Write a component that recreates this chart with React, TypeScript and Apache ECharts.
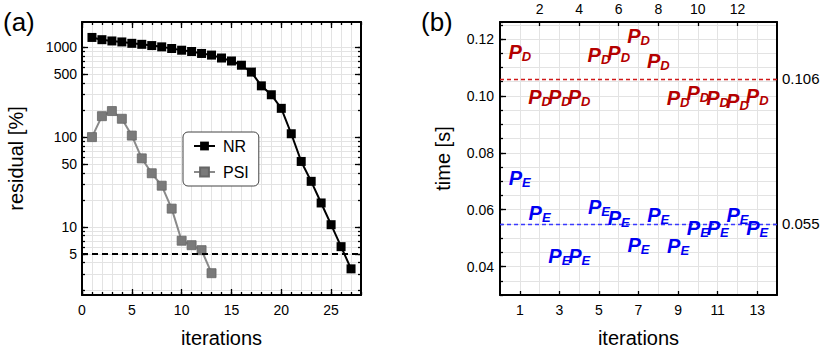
import React, { useEffect, useRef } from 'react';
import * as echarts from 'echarts';

// ---------- data: panel (a) ----------
const nrIter = [1, 2, 3, 4, 5, 6, 7, 8, 9, 10, 11, 12, 13, 14, 15, 16, 17, 18, 19, 20, 21, 22, 23, 24, 25, 26, 27];
const nrResidual = [1286, 1214, 1175, 1146, 1106, 1078, 1044, 1010, 968, 927, 897, 853, 818, 759, 703, 631, 529, 372, 296, 209, 109, 53.6, 32.2, 18.5, 10.6, 6.04, 3.42];
const psiIter = [1, 2, 3, 4, 5, 6, 7, 8, 9, 10, 11, 12, 13];
const psiResidual = [100, 171, 195, 160, 104, 58, 39.6, 28.8, 16, 7.03, 6.27, 5.52, 3.06];
const tolerance = 5;
const iterMajorTicks = [0, 5, 10, 15, 20, 25];
const residualMinorTicks = [2, 3, 4, 5, 6, 7, 8, 9, 10, 20, 30, 40, 50, 60, 70, 80, 90, 100, 200, 300, 400, 500, 600, 700, 800, 900, 1000];
const residualLabels = [5, 10, 50, 100, 500, 1000];

// ---------- data: panel (b) ----------
const timeIter = [1, 2, 3, 4, 5, 6, 7, 8, 9, 10, 11, 12, 13];
const pdTime = [0.1152, 0.0995, 0.0995, 0.0995, 0.1141, 0.1148, 0.121, 0.112, 0.0991, 0.1009, 0.0991, 0.0982, 0.0998];
const peTime = [0.071, 0.0587, 0.0435, 0.0435, 0.0608, 0.0568, 0.0473, 0.058, 0.0469, 0.0533, 0.0533, 0.058, 0.0533];
const pdMean = 0.106;
const peMean = 0.055;
const oddIterLabels = [1, 3, 5, 7, 9, 11, 13];
const evenIterLabels = [2, 4, 6, 8, 10, 12];
const timeLabels = [0.04, 0.06, 0.08, 0.1, 0.12];

const FONT = '"Liberation Sans", Arial, Helvetica, sans-serif';
const GRID_COLOR = '#e3e3e3';
const RED = '#b40000';
const BLUE = '#0000f2';

const lg = (v: number) => Math.log10(v);

const frame = { show: true, onZero: false, lineStyle: { color: '#000', width: 2 } };
const noFrame = { show: false, onZero: false };
const tick = (len: number, extra: any = {}) => ({ show: true, inside: true, length: len, lineStyle: { color: '#000', width: 1.3 }, ...extra });
const noLabel = { show: false };
const label = (extra: any = {}) => ({ show: true, color: '#000', fontSize: 14, fontFamily: FONT, ...extra });
const split = { show: true, lineStyle: { color: GRID_COLOR, width: 1 } };
const noSplit = { show: false };
const nameStyle = { color: '#000', fontSize: 20, fontFamily: FONT };

function richLabel(sub: string, color: string) {
  return {
    show: true,
    position: 'inside',
    opacity: 1,
    formatter: `{p|P}{s|${sub}}`,
    rich: {
      p: { fontSize: 20, fontWeight: 'bold', fontStyle: 'italic', fontFamily: FONT, color, lineHeight: 21, verticalAlign: 'top' },
      s: { fontSize: 13, fontWeight: 'bold', fontStyle: 'italic', fontFamily: FONT, color, lineHeight: 13, padding: [11, 0, 0, 0], verticalAlign: 'bottom' },
    },
  };
}

function buildOption(): any {
  const xRange = { type: 'value', min: 0, max: 28 };
  const yRange = { type: 'value', min: 0.243, max: 3.281 };
  const xRangeB = { type: 'value', min: 0, max: 14 };
  const yRangeB = { type: 'value', min: 0.03, max: 0.126 };
  const minorLog = residualMinorTicks.map(lg);
  const majorLog = residualLabels.map(lg);

  return {
    animation: false,
    textStyle: { fontFamily: FONT },
    grid: [
      { left: 82, top: 22, width: 279, height: 278 },
      { left: 500, top: 22, width: 277, height: 278 },
    ],
    xAxis: [
      // panel (a)
      { ...xRange, gridIndex: 0, position: 'bottom', interval: 1, axisLine: frame, axisTick: tick(3), axisLabel: noLabel, splitLine: split,
        name: 'iterations', nameLocation: 'middle', nameGap: 33, nameTextStyle: nameStyle },
      { ...xRange, gridIndex: 0, position: 'bottom', axisLine: noFrame, axisTick: tick(6, { customValues: iterMajorTicks }),
        axisLabel: label({ customValues: iterMajorTicks, margin: 8 }), splitLine: noSplit },
      { ...xRange, gridIndex: 0, position: 'top', interval: 1, axisLine: frame, axisTick: tick(3), axisLabel: noLabel, splitLine: noSplit },
      { ...xRange, gridIndex: 0, position: 'top', axisLine: noFrame, axisTick: tick(6, { customValues: iterMajorTicks }), axisLabel: noLabel, splitLine: noSplit },
      // panel (b)
      { ...xRangeB, gridIndex: 1, position: 'bottom', interval: 1, axisLine: frame, axisTick: { show: false }, axisLabel: noLabel, splitLine: split,
        name: 'iterations', nameLocation: 'middle', nameGap: 33, nameTextStyle: nameStyle },
      { ...xRangeB, gridIndex: 1, position: 'bottom', axisLine: noFrame, axisTick: tick(4, { customValues: oddIterLabels }),
        axisLabel: label({ customValues: oddIterLabels, margin: 8 }), splitLine: noSplit },
      { ...xRangeB, gridIndex: 1, position: 'top', axisLine: frame, axisTick: tick(4, { customValues: evenIterLabels }),
        axisLabel: label({ customValues: evenIterLabels, margin: 6 }), splitLine: noSplit },
    ],
    yAxis: [
      // panel (a)
      { ...yRange, gridIndex: 0, position: 'left', axisLine: frame, axisTick: tick(3, { customValues: minorLog }), axisLabel: noLabel, splitLine: split,
        name: 'residual [%]', nameLocation: 'middle', nameGap: 56, nameTextStyle: nameStyle },
      { ...yRange, gridIndex: 0, position: 'left', axisLine: noFrame, axisTick: tick(6, { customValues: majorLog }),
        axisLabel: label({ customValues: majorLog, margin: 5, formatter: (v: number) => String(Math.round(Math.pow(10, v))) }), splitLine: noSplit },
      { ...yRange, gridIndex: 0, position: 'right', axisLine: frame, axisTick: tick(3, { customValues: minorLog }), axisLabel: noLabel, splitLine: noSplit },
      { ...yRange, gridIndex: 0, position: 'right', axisLine: noFrame, axisTick: tick(6, { customValues: majorLog }), axisLabel: noLabel, splitLine: noSplit },
      // panel (b)
      { ...yRangeB, gridIndex: 1, position: 'left', interval: 0.005, axisLine: frame, axisTick: tick(3), axisLabel: noLabel, splitLine: split,
        name: 'time [s]', nameLocation: 'middle', nameGap: 47, nameTextStyle: nameStyle },
      { ...yRangeB, gridIndex: 1, position: 'left', axisLine: noFrame, axisTick: tick(6, { customValues: timeLabels }),
        axisLabel: label({ customValues: timeLabels, margin: 6, formatter: (v: number) => v.toFixed(2) }), splitLine: noSplit },
      { ...yRangeB, gridIndex: 1, position: 'right', axisLine: frame, axisTick: tick(4, { customValues: [pdMean, peMean] }),
        axisLabel: label({ customValues: [pdMean, peMean], margin: 5, fontSize: 15, formatter: (v: number) => v.toFixed(3) }), splitLine: noSplit },
    ],
    legend: {
      data: ['NR', 'PSI'],
      orient: 'vertical',
      left: 183,
      top: 132,
      itemWidth: 21,
      itemHeight: 11,
      itemGap: 10,
      padding: [6, 10, 6, 10],
      borderColor: '#444',
      borderWidth: 1,
      borderRadius: 5,
      backgroundColor: '#fff',
      textStyle: { fontSize: 16, color: '#000', fontFamily: FONT, padding: [0, 0, 0, 3] },
      selectedMode: false,
    },
    graphic: [
      { type: 'text', left: 3, top: 9, style: { text: '(a)', font: `26px ${FONT}`, fill: '#000' } },
      { type: 'text', left: 421, top: 9, style: { text: '(b)', font: `26px ${FONT}`, fill: '#000' } },
    ],
    series: [
      {
        name: 'NR', type: 'line', xAxisIndex: 0, yAxisIndex: 0,
        data: nrIter.map((x, i) => [x, lg(nrResidual[i])]),
        symbol: 'rect', symbolSize: 9, showSymbol: true,
        lineStyle: { color: '#000', width: 2 }, itemStyle: { color: '#000' },
        silent: true, z: 4,
        markLine: {
          silent: true, symbol: 'none', animation: false, precision: 6,
          data: [{ yAxis: lg(tolerance) }],
          lineStyle: { color: '#000', type: [6, 4], width: 2 },
          label: { show: false },
        },
      },
      {
        name: 'PSI', type: 'line', xAxisIndex: 0, yAxisIndex: 0,
        data: psiIter.map((x, i) => [x, lg(psiResidual[i])]),
        symbol: 'rect', symbolSize: 9, showSymbol: true,
        lineStyle: { color: '#8a8a8a', width: 2 }, itemStyle: { color: '#7a7a7a', borderColor: '#666', borderWidth: 0.8 },
        silent: true, z: 3,
      },
      {
        name: 'PD', type: 'scatter', xAxisIndex: 4, yAxisIndex: 4,
        data: timeIter.map((x, i) => [x, pdTime[i]]),
        symbolSize: 0, itemStyle: { color: RED, opacity: 1 }, silent: true, z: 5,
        label: richLabel('D', RED),
        markLine: {
          silent: true, symbol: 'none', animation: false, precision: 6,
          data: [{ yAxis: pdMean }],
          lineStyle: { color: '#d01818', type: [4, 3], width: 1.3, opacity: 1 },
          label: { show: false },
        },
      },
      {
        name: 'PE', type: 'scatter', xAxisIndex: 4, yAxisIndex: 4,
        data: timeIter.map((x, i) => [x, peTime[i]]),
        symbolSize: 0, itemStyle: { color: BLUE, opacity: 1 }, silent: true, z: 5,
        label: richLabel('E', BLUE),
        markLine: {
          silent: true, symbol: 'none', animation: false, precision: 6,
          data: [{ yAxis: peMean }],
          lineStyle: { color: '#3a3aff', type: [4, 3], width: 1.3, opacity: 1 },
          label: { show: false },
        },
      },
    ],
  };
}

export default function App() {
  const ref = useRef<HTMLDivElement>(null);
  useEffect(() => {
    document.body.style.margin = '0';
    const chart = echarts.init(ref.current!, null, { renderer: 'svg' });
    chart.setOption(buildOption());
    return () => chart.dispose();
  }, []);
  return <div ref={ref} style={{ width: 830, height: 353 }} />;
}
